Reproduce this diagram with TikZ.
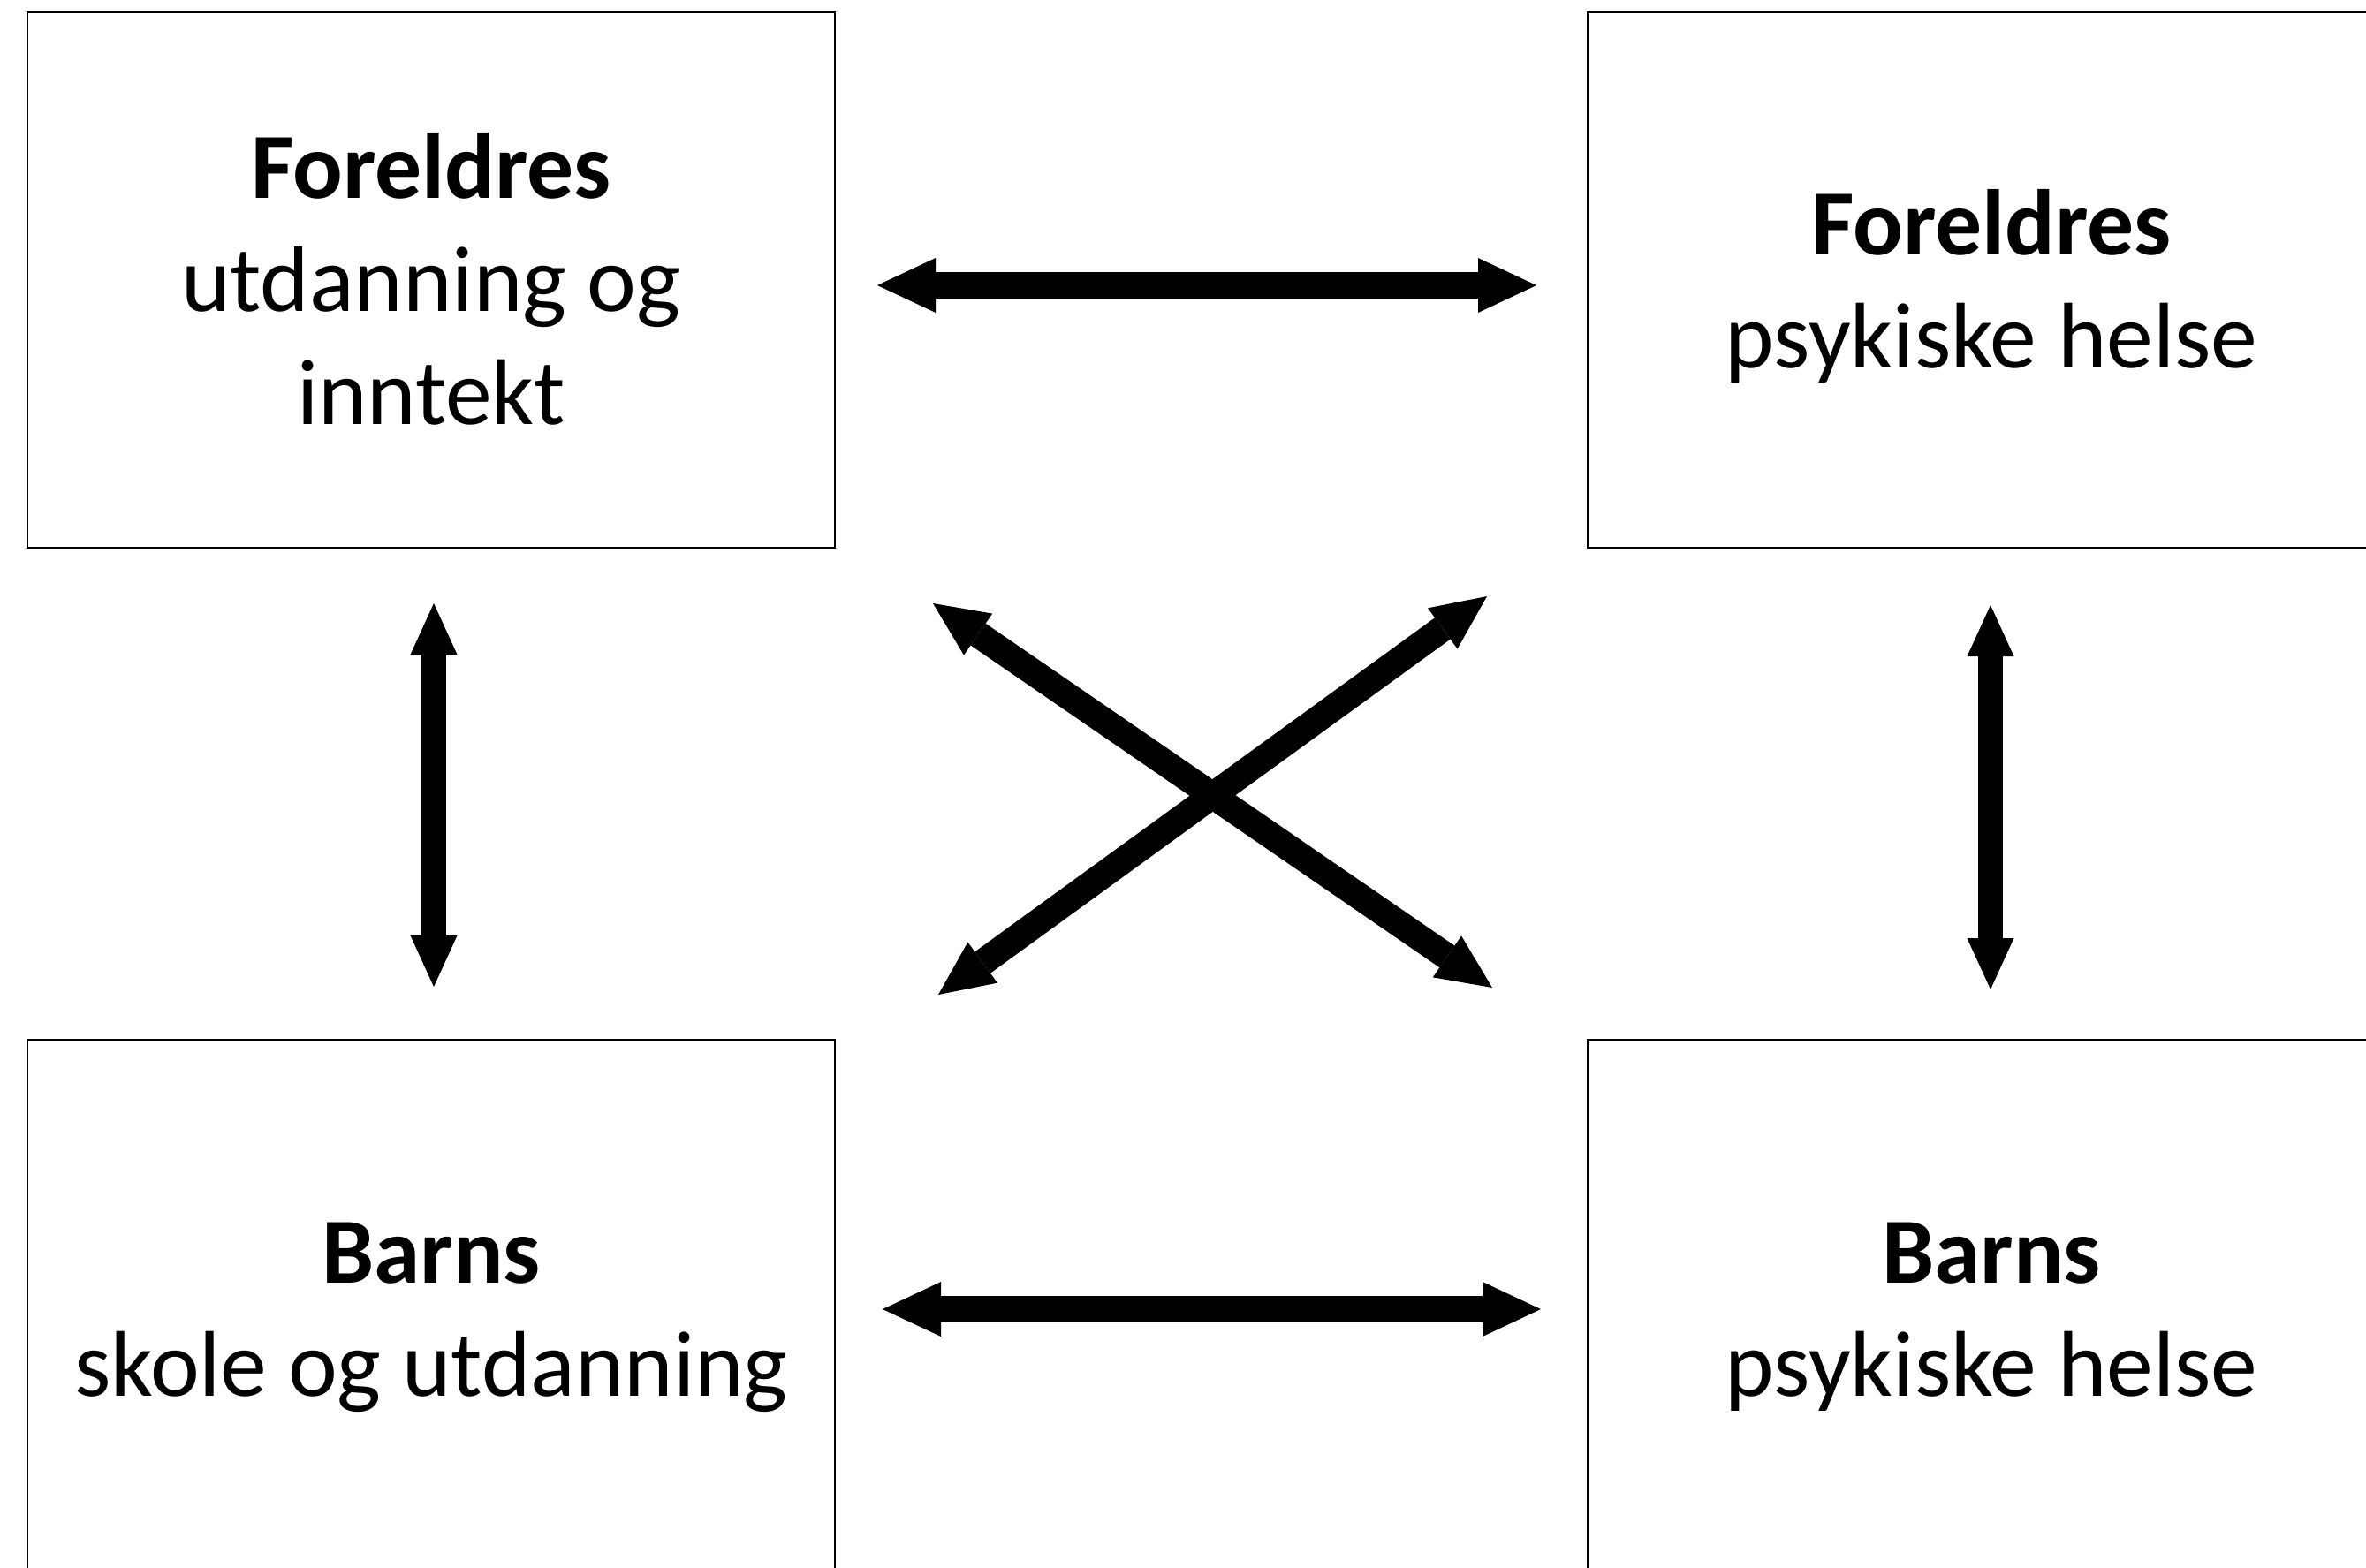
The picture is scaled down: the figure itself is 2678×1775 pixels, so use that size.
\documentclass[tikz,border=0pt]{standalone}
\usepackage{fontspec}
\setmainfont{Carlito}
\usetikzlibrary{arrows.meta}
\newcommand\lstr{\rule[-14pt]{0pt}{64pt}}
\begin{document}
\begin{tikzpicture}[x=0.5pt,y=-0.5pt,
  box/.style={draw=black,line width=1.2pt,minimum width=457pt,minimum height=303pt,
    inner sep=0pt,align=center,font=\fontsize{52.8}{64}\selectfont},
  harrow/.style={line width=15pt,
    arrows={Triangle[width=31pt,length=33pt,line width=0pt]-Triangle[width=31pt,length=33pt,line width=0pt]}},
  varrow/.style={line width=14pt,
    arrows={Triangle[width=26.5pt,length=29pt,line width=0pt]-Triangle[width=26.5pt,length=29pt,line width=0pt]}},
  darrow/.style={line width=15pt,
    arrows={Triangle[width=28.5pt,length=31pt,line width=0pt]-Triangle[width=28.5pt,length=31pt,line width=0pt]}}]
\useasboundingbox (0,0) rectangle (2678,1775);
\clip (0,0) rectangle (2678,1775);
\fill[white] (0,0) rectangle (2678,1775);

\node[box] (ptl) at (488,317) {\textbf{Foreldres}\lstr\\utdanning og\lstr\\inntekt\lstr};
\node[box] (ptr) at (2254,317) {\textbf{Foreldres}\lstr\\psykiske helse\lstr};
\node[box] (bbl) at (488,1480) {\textbf{Barns}\lstr\\skole og utdanning\lstr};
\node[box] (bbr) at (2254,1480) {\textbf{Barns}\lstr\\psykiske helse\lstr};

\coordinate (ha1) at (993,323);
\coordinate (ha2) at (1739,323);
\coordinate (hb1) at (999,1482);
\coordinate (hb2) at (1744,1482);
\coordinate (va1) at (491,683);
\coordinate (va2) at (491,1117);
\coordinate (vb1) at (2253,685);
\coordinate (vb2) at (2253,1120);
\coordinate (da1) at (1056,683);
\coordinate (da2) at (1689,1118);
\coordinate (db1) at (1062,1126);
\coordinate (db2) at (1683,675);

\draw[harrow] (ha1) -- (ha2);
\draw[harrow] (hb1) -- (hb2);
\draw[varrow] (va1) -- (va2);
\draw[varrow] (vb1) -- (vb2);
\draw[darrow] (da1) -- (da2);
\draw[darrow] (db1) -- (db2);
\end{tikzpicture}
\end{document}
